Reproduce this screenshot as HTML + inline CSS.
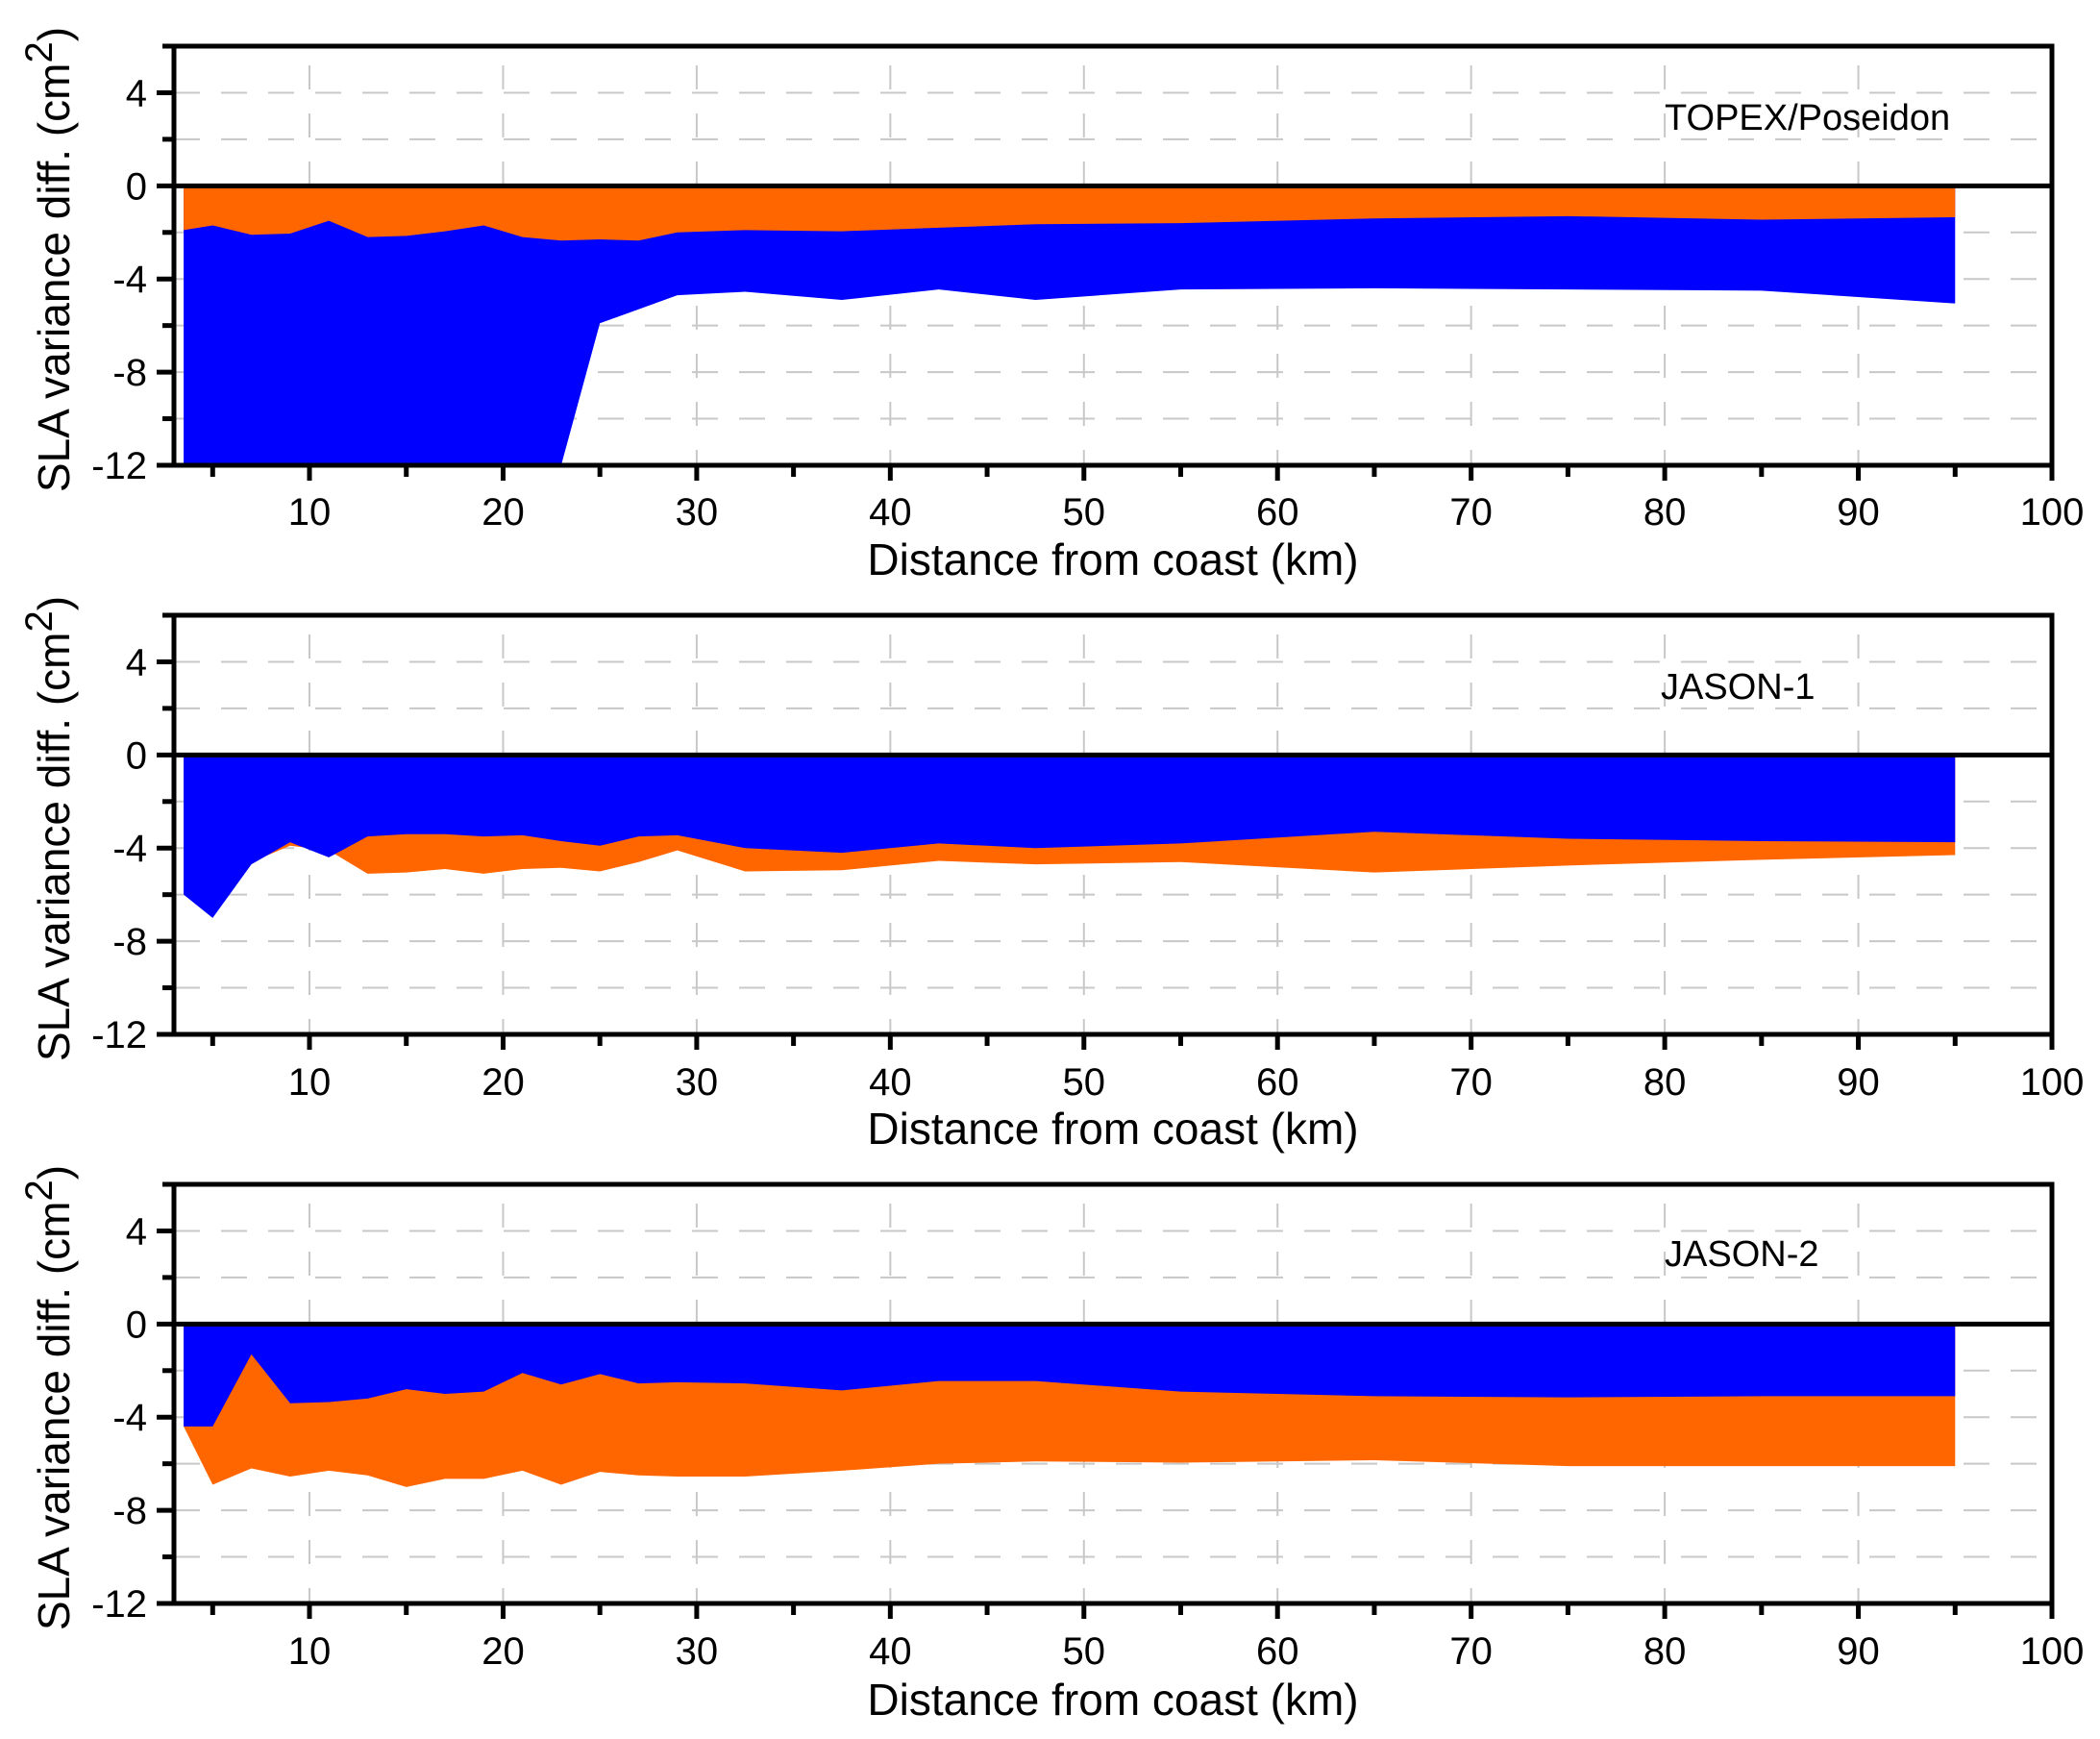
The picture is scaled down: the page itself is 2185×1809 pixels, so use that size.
<!DOCTYPE html>
<html><head><meta charset="utf-8"><style>
html,body{margin:0;padding:0;background:#fff;}
svg{display:block;font-family:"Liberation Sans",Arial,sans-serif;}
</style></head><body>
<svg id="chart" width="2185" height="1809" viewBox="0 0 2185 1809" xmlns="http://www.w3.org/2000/svg"></svg>
<script>
const xs = [3.5,5,7,9,11,13,15,17,19,21,23,25,27,29,32.5,37.5,42.5,47.5,55,65,75,85,95];
// TOPEX/Poseidon
const topexOrange = [-1.9,-1.7,-2.1,-2.05,-1.5,-2.2,-2.15,-1.95,-1.7,-2.2,-2.35,-2.3,-2.35,-2.0,-1.9,-1.95,-1.8,-1.65,-1.6,-1.4,-1.3,-1.45,-1.35];
const topexBlue = [-16,-16,-16,-16,-16,-16,-16,-16,-16,-16,-12,-5.9,-5.3,-4.7,-4.55,-4.9,-4.45,-4.9,-4.45,-4.4,-4.45,-4.5,-5.05];
// JASON-1
const jason1Blue = [-6.0,-7.0,-4.7,-3.75,-4.4,-3.5,-3.4,-3.4,-3.5,-3.45,-3.7,-3.9,-3.5,-3.45,-4.0,-4.2,-3.8,-4.0,-3.8,-3.3,-3.6,-3.7,-3.75];
const jason1Orange = [-5.9,-6.5,-4.6,-3.9,-4.1,-5.1,-5.05,-4.9,-5.1,-4.9,-4.85,-5.0,-4.6,-4.1,-5.0,-4.95,-4.55,-4.7,-4.6,-5.05,-4.75,-4.5,-4.3];
// JASON-2
const jason2Blue = [-4.4,-4.4,-1.3,-3.4,-3.35,-3.2,-2.8,-3.0,-2.9,-2.1,-2.6,-2.15,-2.55,-2.5,-2.55,-2.85,-2.45,-2.45,-2.9,-3.1,-3.15,-3.1,-3.1];
const jason2Orange = [-4.4,-6.9,-6.2,-6.55,-6.3,-6.5,-7.0,-6.65,-6.65,-6.3,-6.9,-6.35,-6.5,-6.55,-6.55,-6.3,-6.0,-5.9,-5.95,-5.85,-6.1,-6.1,-6.1];
const yTicks = [4,0,-4,-8,-12];
const yMinor = [6,2,-2,-6,-10];
const xTickLabels = [10,20,30,40,50,60,70,80,90,100];
const xMinor = [5,15,25,35,45,55,65,75,85,95];
const panelNames = ["TOPEX/Poseidon","JASON-1","JASON-2"];

const NS="http://www.w3.org/2000/svg";
const svg=document.getElementById('chart');
const L=181,R=2135,XMIN=3,XMAX=100,YMAX=6,YMIN=-12;
const panels=[
 {top:48,bottom:484,lab:546,title:598,ann:[1732,135],series:[[topexBlue,'#0000ff'],[topexOrange,'#ff6600']],name:'topex'},
 {top:640,bottom:1076,lab:1139,title:1190,ann:[1728,727],series:[[jason1Orange,'#ff6600'],[jason1Blue,'#0000ff']],name:'jason1'},
 {top:1232,bottom:1668,lab:1731,title:1784,ann:[1732,1317],series:[[jason2Orange,'#ff6600'],[jason2Blue,'#0000ff']],name:'jason2'}
];
function el(t,a,p){const e=document.createElementNS(NS,t);for(const k in a)e.setAttribute(k,a[k]);(p||svg).appendChild(e);return e;}
const sx=v=>L+(v-XMIN)/(XMAX-XMIN)*(R-L);
panels.forEach((p,i)=>{
 const sy=v=>p.top+(YMAX-v)/(YMAX-YMIN)*(p.bottom-p.top);
 const g=el('g',{});
 
 
 const clipId='clip'+i;
 const cp=el('clipPath',{id:clipId},g);
 el('rect',{x:L,y:p.top,width:R-L,height:p.bottom-p.top},cp);
 const grid=el('g',{stroke:'#c8c8c8','stroke-width':2,'stroke-dasharray':'27,22'},g);
 
 
 [4,2,-2,-4,-6,-8,-10].forEach(v=>el('line',{x1:L,x2:R,y1:sy(v),y2:sy(v)},grid));
 xTickLabels.slice(0,-1).forEach(v=>el('line',{x1:sx(v),x2:sx(v),y1:p.top+20,y2:p.bottom,'stroke-dasharray':'25,25'},grid));
 p.series.forEach(([vals,col],k)=>{
  let d='M'+sx(xs[0])+','+sy(0);
  xs.forEach((x,j)=>{d+=' L'+sx(x)+','+sy(vals[j]);});
  d+=' L'+sx(xs[xs.length-1])+','+sy(0)+' Z';
  const a=el('path',{d:d,fill:col,'clip-path':'url(#'+clipId+')'},g);
  
  
 });
 const z=el('line',{x1:L,x2:R,y1:sy(0),y2:sy(0),stroke:'#000','stroke-width':5},g);
 
 
 const f=el('rect',{x:L,y:p.top,width:R-L,height:p.bottom-p.top,fill:'none',stroke:'#000','stroke-width':5},g);
 
 
 yTicks.forEach(v=>{
  el('line',{x1:L-18,x2:L,y1:sy(v),y2:sy(v),stroke:'#000','stroke-width':5},g);
  const t=el('text',{x:153,y:sy(v)+14,'font-size':40,'text-anchor':'end'},g);
  t.textContent=v;
  
  
 });
 yMinor.forEach(v=>el('line',{x1:L-12,x2:L,y1:sy(v),y2:sy(v),stroke:'#000','stroke-width':5},g));
 xTickLabels.forEach(v=>{
  el('line',{x1:sx(v),x2:sx(v),y1:p.bottom,y2:p.bottom+16,stroke:'#000','stroke-width':5},g);
  const t=el('text',{x:sx(v),y:p.lab,'font-size':40,'text-anchor':'middle'},g);
  t.textContent=v;
  
  
 });
 xMinor.forEach(v=>el('line',{x1:sx(v),x2:sx(v),y1:p.bottom,y2:p.bottom+12,stroke:'#000','stroke-width':5},g));
 const xt=el('text',{x:1158,y:p.title,'font-size':46,'text-anchor':'middle'},g);
 xt.textContent='Distance from coast (km)';
 
 
 const yc=(p.top+p.bottom)/2+4;
 const yt=el('text',{x:0,y:0,'font-size':46,'text-anchor':'middle',transform:'translate(72,'+yc+') rotate(-90)'},g);
 yt.innerHTML='SLA variance diff. (cm<tspan dy="-18" font-size="40">2</tspan><tspan dy="18">)</tspan>';
 
 
 const an=el('text',{x:p.ann[0],y:p.ann[1],'font-size':38},g);
 an.textContent=panelNames[i];
 
 
});
</script>
</body></html>
